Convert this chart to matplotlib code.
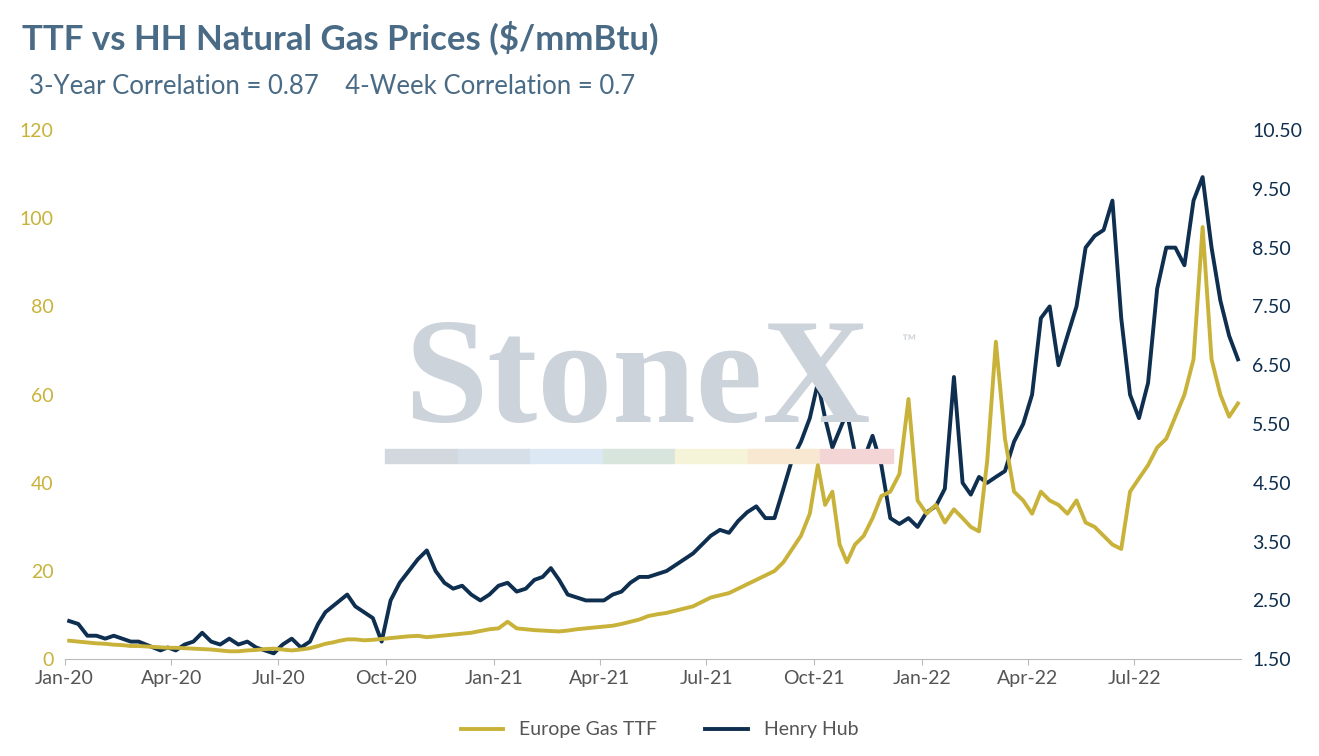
import matplotlib
matplotlib.use("Agg")
import matplotlib.pyplot as plt
import matplotlib.dates as mdates
import pandas as pd
import numpy as np

plt.rcParams['font.family'] = ['Lato', 'DejaVu Sans']

months = pd.date_range("2020-01-01", "2022-09-01", freq="MS")
hh_monthly = [
 [2.15,2.1,1.9,1.9],[1.85,1.9,1.85,1.8],[1.8,1.75,1.7,1.65,1.7],[1.65,1.75,1.8,1.95],
 [1.8,1.75,1.85,1.75],[1.8,1.7,1.65,1.6],[1.75,1.85,1.7,1.8],[2.1,2.3,2.4,2.5,2.6],
 [2.4,2.3,2.2,1.8],[2.5,2.8,3.0,3.2],[3.35,3.0,2.8,2.7],[2.75,2.6,2.5,2.6],
 [2.75,2.8,2.65,2.7],[2.85,2.9,3.05,2.85],[2.6,2.55,2.5,2.5],[2.5,2.6,2.65,2.8],
 [2.9,2.9,2.95,3.0],[3.1,3.2,3.3,3.45],[3.6,3.7,3.65,3.85],[4.0,4.1,3.9,3.9],
 [4.4,4.9,5.2,5.6],[6.2,5.6,5.1,5.4,5.7],[5.0,4.9,5.3,4.8],[3.9,3.8,3.9,3.75],
 [4.0,4.1,4.4,6.3],[4.5,4.3,4.6,4.5],[4.6,4.7,5.2,5.5],[6.0,7.3,7.5,6.5],
 [7.0,7.5,8.5,8.7],[8.8,9.3,7.3,6.0],[5.6,6.2,7.8,8.5],[8.5,8.2,9.3,9.7],
 [8.5,7.6,7.0,6.6],
]
ttf_monthly = [
 [4.2,4.0,3.8,3.6],[3.5,3.3,3.2,3.0],[3.0,2.9,2.8,2.7,2.6],[2.6,2.5,2.4,2.3],
 [2.2,2.0,1.8,1.8],[2.0,2.1,2.3,2.4],[2.2,2.0,2.2,2.5],[3.0,3.5,3.8,4.2,4.5],
 [4.5,4.3,4.4,4.6],[4.8,5.0,5.2,5.3],[5.0,5.2,5.4,5.6],[5.8,6.0,6.4,6.8],
 [7.0,8.5,7.0,6.8],[6.6,6.5,6.4,6.3],[6.5,6.8,7.0,7.2],[7.4,7.6,8.0,8.5],
 [9.0,9.8,10.2,10.5],[11.0,11.5,12.0,13.0],[14.0,14.5,15.0,16.0],[17.0,18.0,19.0,20.0],
 [22.0,25.0,28.0,33.0],[44.0,35.0,38.0,26.0,22.0],[26.0,28.0,32.0,37.0],[38.0,42.0,59.0,36.0],
 [33.0,35.0,31.0,34.0],[32.0,30.0,29.0,45.0],[72.0,50.0,38.0,36.0],[33.0,38.0,36.0,35.0],
 [33.0,36.0,31.0,30.0],[28.0,26.0,25.0,38.0],[41.0,44.0,48.0,50.0],[55.0,60.0,68.0,98.0],
 [68.0,60.0,55.0,58.0],
]

def expand(monthly):
    d, v = [], []
    for m, vals in zip(months, monthly):
        n = len(vals)
        days = m.days_in_month
        for i, x in enumerate(vals):
            d.append(m + pd.Timedelta(days=days * (i + 0.5) / n))
            v.append(x)
    return d, v

hd, hv = expand(hh_monthly)
td, tv = expand(ttf_monthly)

gold = "#c9b23a"
navy = "#0e2f4f"
slate = "#4a6b85"

fig = plt.figure(figsize=(13.19, 7.56), dpi=100)
ax = fig.add_axes([0.049, 0.128, 0.892, 0.70])
ax2 = ax.twinx()

l1, = ax.plot(td, tv, color=gold, lw=2.8, label="Europe Gas TTF", zorder=3)
l2, = ax2.plot(hd, hv, color=navy, lw=2.8, label="Henry Hub", zorder=3)

ax.set_ylim(0, 120)
ax.set_yticks(range(0, 121, 20))
ax2.set_ylim(1.5, 10.5)
ax2.set_yticks(np.arange(1.5, 10.51, 1.0))
ax2.set_yticklabels([f"{v:.2f}" for v in np.arange(1.5, 10.51, 1.0)])
ax.set_xlim(pd.Timestamp("2020-01-01"), pd.Timestamp("2022-09-30"))
ax.set_xticks(pd.date_range("2020-01-01", "2022-07-01", freq="QS"))
ax.xaxis.set_major_formatter(mdates.DateFormatter("%b-%y"))

for a in (ax, ax2):
    for s in a.spines.values():
        s.set_visible(False)
ax.spines['bottom'].set_visible(True)
ax.spines['bottom'].set_color("#bbbbbb")
ax.tick_params(axis='y', colors=gold, labelsize=14, length=0, pad=8)
ax2.tick_params(axis='y', colors=navy, labelsize=14, length=0, pad=8)
ax.tick_params(axis='x', colors="#555555", labelsize=14, length=4, color="#bbbbbb")
ax.set_zorder(ax2.get_zorder() + 1)
ax.patch.set_visible(False)

# watermark
fig.text(0.483, 0.49, "StoneX", fontsize=108, family="Liberation Serif", fontweight="bold",
         color="#ccd3da", ha="center", va="center", zorder=0)
fig.text(0.683, 0.54, "™", fontsize=14, color="#ccd3da")
cols = ["#d3d7de", "#d6dee8", "#dce8f3", "#d7e5dc", "#f5f3d8", "#f8e8d2", "#f3d5d5"]
for i, c in enumerate(cols):
    fig.patches.append(plt.Rectangle((0.292 + i * 0.055, 0.387), 0.055, 0.019,
                                     transform=fig.transFigure, color=c, zorder=0))

fig.text(0.017, 0.935, "TTF vs HH Natural Gas Prices ($/mmBtu)", fontsize=25,
         fontweight="bold", color=slate)
fig.text(0.022, 0.875, "3-Year Correlation = 0.87    4-Week Correlation = 0.7",
         fontsize=18.5, color=slate)

fig.legend([l1, l2], ["Europe Gas TTF", "Henry Hub"], loc="lower center",
           bbox_to_anchor=(0.5, 0.0), ncol=2, frameon=False, fontsize=14,
           labelcolor="#555555", handlelength=2.2, columnspacing=2.5)

fig.savefig("out.png", dpi=100)
